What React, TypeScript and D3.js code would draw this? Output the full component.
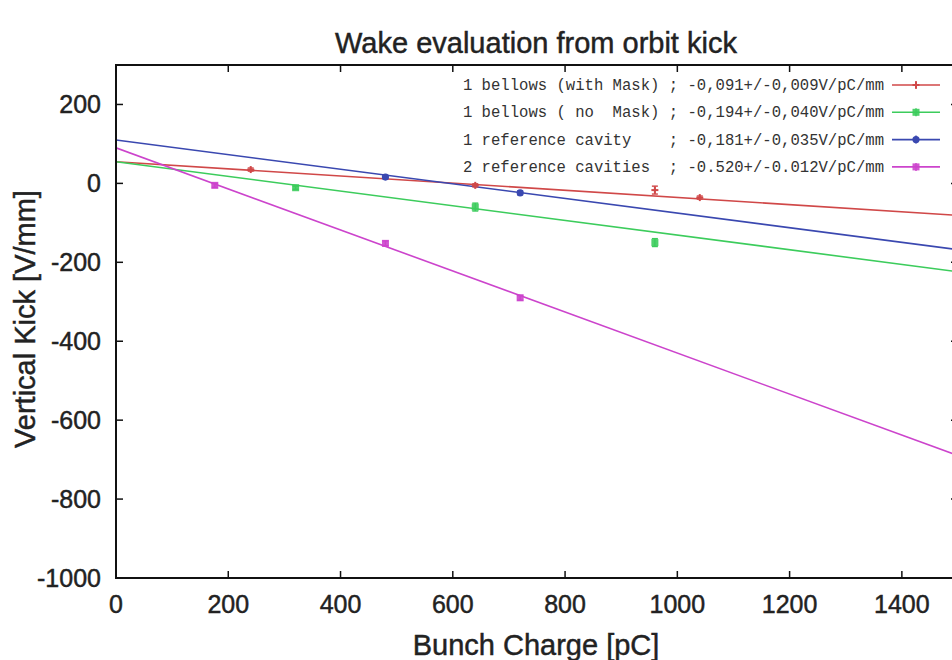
import React from "react";
import * as d3 from "d3";

const title = "Wake evaluation from orbit kick";
const xLabel = "Bunch Charge [pC]";
const yLabel = "Vertical Kick [V/mm]";

const xTicks = [0, 200, 400, 600, 800, 1000, 1200, 1400, 1500];
const xTickLabels = ["0", "200", "400", "600", "800", "1000", "1200", "1400", ""];
const yTicks = [-1000, -800, -600, -400, -200, 0, 200];
const yTickLabels = ["-1000", "-800", "-600", "-400", "-200", "0", "200"];

const seriesNames = [
  "1 bellows (with Mask) ; -0,091+/-0,009V/pC/mm",
  "1 bellows ( no  Mask) ; -0,194+/-0,040V/pC/mm",
  "1 reference cavity    ; -0,181+/-0,035V/pC/mm",
  "2 reference cavities  ; -0.520+/-0.012V/pC/mm",
];
const seriesColors = ["#d04848", "#3ccc5c", "#3a48b0", "#cc44cc"];
const seriesMarkers = ["plus", "square", "circle", "square"];

// measured points
const redX = [240, 640, 960, 1040];
const redY = [35, -5, -17, -36];
const redErr = [4, 4, 10, 4];
const greenX = [320, 640, 960];
const greenY = [-11, -60, -150];
const greenErr = [4, 10, 10];
const blueX = [480, 720];
const blueY = [16, -24];
const blueErr = [4, 5];
const magX = [176, 480, 720];
const magY = [-5, -152, -290];
const magErr = [5, 6, 6];

// fitted lines (value at x = 0 and x = 1500)
const fitX = [0, 1500];
const redFit = [55, -81];
const greenFit = [55, -224];
const blueFit = [110, -168];
const magFit = [90, -690];

const W = 952;
const H = 660;
const M = { left: 116, right: 958, top: 65, bottom: 578 };

const sansFont = "'Liberation Sans', Arial, Helvetica, sans-serif";
const monoFont = "'Liberation Mono', 'DejaVu Sans Mono', monospace";
const textStroke = { stroke: "#222", strokeWidth: 0.45 };

function Marker({ type, x, y, color }: { type: string; x: number; y: number; color: string }) {
  if (type === "plus") {
    return (
      <g stroke={color} strokeWidth={2}>
        <line x1={x - 3.5} x2={x + 3.5} y1={y} y2={y} />
        <line x1={x} x2={x} y1={y - 3.5} y2={y + 3.5} />
      </g>
    );
  }
  if (type === "circle") {
    return <circle cx={x} cy={y} r={3.6} fill={color} />;
  }
  return <rect x={x - 3.5} y={y - 3.5} width={7} height={7} fill={color} opacity={0.9} />;
}

export default function App() {
  const x = d3.scaleLinear().domain([0, 1500]).range([M.left, M.right]);
  const y = d3.scaleLinear().domain([-1000, 300]).range([M.bottom, M.top]);
  const line = d3
    .line<[number, number]>()
    .x((d) => x(d[0]))
    .y((d) => y(d[1]));

  const series = [
    { xs: redX, ys: redY, err: redErr, fit: redFit },
    { xs: greenX, ys: greenY, err: greenErr, fit: greenFit },
    { xs: blueX, ys: blueY, err: blueErr, fit: blueFit },
    { xs: magX, ys: magY, err: magErr, fit: magFit },
  ];

  const tickLen = 7;

  return (
    <svg
      width={W}
      height={H}
      style={{ position: "absolute", left: 0, top: 0, background: "#fff" }}
    >
      <defs>
        <clipPath id="plotClip">
          <rect x={M.left} y={M.top} width={M.right - M.left} height={M.bottom - M.top} />
        </clipPath>
      </defs>
      <rect x={0} y={0} width={W} height={H} fill="#fff" />

      {/* Title */}
      <text
        x={536}
        y={53}
        textAnchor="middle"
        fontFamily={sansFont}
        fontSize={29}
        fill="#222"
        {...textStroke}
      >
        {title}
      </text>

      {/* Fit lines and points */}
      <g clipPath="url(#plotClip)">
        {series.map((s, i) => (
          <path
            key={"fit" + i}
            d={line(fitX.map((v, k) => [v, s.fit[k]] as [number, number])) || ""}
            fill="none"
            stroke={seriesColors[i]}
            strokeWidth={1.6}
          />
        ))}
        {series.map((s, i) => (
          <g key={"pts" + i}>
            {s.xs.map((xv, k) => {
              const px = x(xv);
              const py = y(s.ys[k]);
              const e1 = y(s.ys[k] + s.err[k]);
              const e2 = y(s.ys[k] - s.err[k]);
              return (
                <g key={k}>
                  <g stroke={seriesColors[i]} strokeWidth={1.4}>
                    <line x1={px} x2={px} y1={e1} y2={e2} />
                    <line x1={px - 3} x2={px + 3} y1={e1} y2={e1} />
                    <line x1={px - 3} x2={px + 3} y1={e2} y2={e2} />
                  </g>
                  <Marker type={seriesMarkers[i]} x={px} y={py} color={seriesColors[i]} />
                </g>
              );
            })}
          </g>
        ))}
      </g>

      {/* Legend */}
      <g>
        {seriesNames.map((name, i) => {
          const ry = 85 + i * 27.3;
          return (
            <g key={"leg" + i}>
              <text
                x={884}
                y={ry + 5}
                textAnchor="end"
                fontFamily={monoFont}
                fontSize={15.6}
                fill="#333"
                style={{ whiteSpace: "pre" }}
                xmlSpace="preserve"
              >
                {name}
              </text>
              <line x1={892} x2={940} y1={ry} y2={ry} stroke={seriesColors[i]} strokeWidth={1.6} />
              <g stroke={seriesColors[i]} strokeWidth={1.4}>
                <line x1={916} x2={916} y1={ry - 4} y2={ry + 4} />
              </g>
              <Marker type={seriesMarkers[i]} x={916} y={ry} color={seriesColors[i]} />
            </g>
          );
        })}
      </g>

      {/* Frame */}
      <rect
        x={M.left}
        y={M.top}
        width={M.right - M.left}
        height={M.bottom - M.top}
        fill="none"
        stroke="#111"
        strokeWidth={2}
      />

      {/* Ticks */}
      <g stroke="#111" strokeWidth={1.5}>
        {xTicks.map((t) => (
          <g key={"xt" + t}>
            <line x1={x(t)} x2={x(t)} y1={M.bottom} y2={M.bottom - tickLen} />
            <line x1={x(t)} x2={x(t)} y1={M.top} y2={M.top + tickLen} />
          </g>
        ))}
        {yTicks.map((t) => (
          <g key={"yt" + t}>
            <line x1={M.left} x2={M.left + tickLen} y1={y(t)} y2={y(t)} />
            <line x1={M.right} x2={M.right - tickLen} y1={y(t)} y2={y(t)} />
          </g>
        ))}
      </g>

      {xTicks.map((t, i) =>
        xTickLabels[i] ? (
          <text
            key={"xl" + t}
            x={x(t)}
            y={613}
            textAnchor="middle"
            fontFamily={sansFont}
            fontSize={25}
            fill="#222"
            {...textStroke}
          >
            {xTickLabels[i]}
          </text>
        ) : null
      )}
      {yTicks.map((t, i) => (
        <text
          key={"yl" + t}
          x={101}
          y={y(t) + 9}
          textAnchor="end"
          fontFamily={sansFont}
          fontSize={25}
          fill="#222"
          {...textStroke}
        >
          {yTickLabels[i]}
        </text>
      ))}

      {/* Axis labels */}
      <text
        x={536}
        y={655}
        textAnchor="middle"
        fontFamily={sansFont}
        fontSize={29}
        fill="#222"
        {...textStroke}
      >
        {xLabel}
      </text>
      <text
        transform={`translate(35, 319) rotate(-90)`}
        textAnchor="middle"
        fontFamily={sansFont}
        fontSize={29}
        fill="#222"
        {...textStroke}
      >
        {yLabel}
      </text>
    </svg>
  );
}
